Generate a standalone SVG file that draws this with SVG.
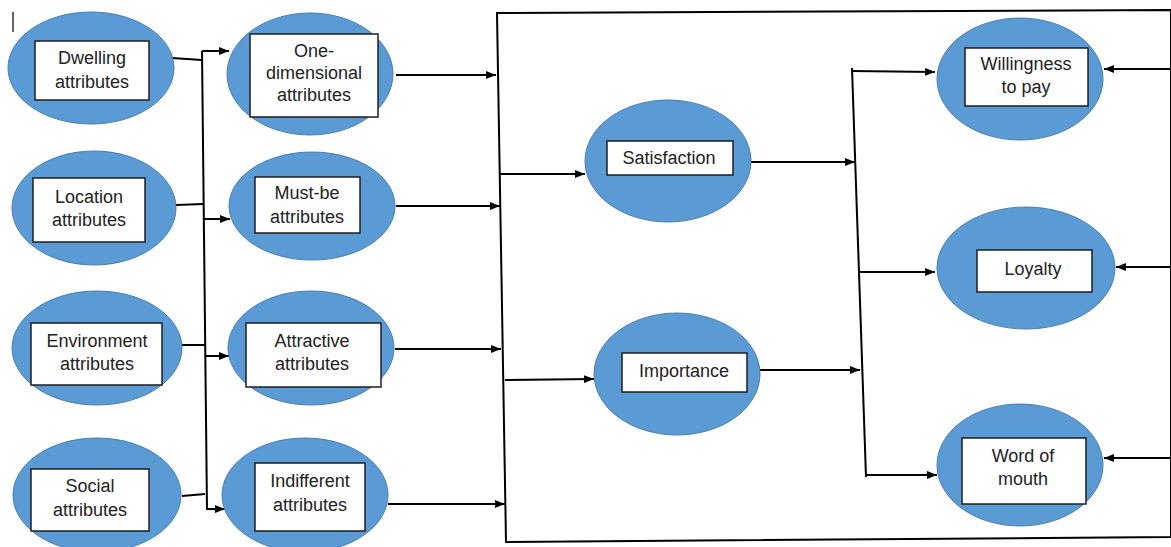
<svg xmlns="http://www.w3.org/2000/svg" width="1171" height="547" viewBox="0 0 1171 547">
<defs>
<marker id="ah" markerWidth="10" markerHeight="8" refX="10" refY="4" orient="auto" markerUnits="userSpaceOnUse">
<path d="M0,0 L10,4 L0,8 z" fill="#000"/>
</marker>
<style>
.el{fill:#5b9bd5;stroke:#4a7fb0;stroke-width:1}
.bx{fill:#fff;stroke:#1e1e1e;stroke-width:1.5}
.tx{font-family:"Liberation Sans",Arial,sans-serif;font-size:18px;fill:#222;text-anchor:middle}
.ln{fill:none;stroke:#000;stroke-width:2}
.ar{fill:none;stroke:#000;stroke-width:2;marker-end:url(#ah)}
</style>
</defs>
<rect width="1171" height="547" fill="#fff"/>
<line x1="13" y1="12" x2="13" y2="32" stroke="#333" stroke-width="1.5"/>

<g id="connectors">
<path class="ln" d="M497,13 L1171,10 L1171,537 L506,542 Z"/>
<polyline class="ln" points="172,58 202,60"/>
<polyline class="ln" points="176,205 203,204"/>
<polyline class="ln" points="182,345 205,345"/>
<polyline class="ln" points="182,496 205,494"/>
<line class="ln" x1="202" y1="51" x2="207" y2="510"/>
<line class="ar" x1="202" y1="51" x2="229" y2="51"/>
<line class="ar" x1="204" y1="219" x2="230" y2="219"/>
<line class="ar" x1="205" y1="356" x2="229" y2="356"/>
<line class="ar" x1="207" y1="509" x2="225" y2="509"/>
<line class="ar" x1="396" y1="75" x2="496" y2="75"/>
<line class="ar" x1="396" y1="206" x2="500" y2="206"/>
<line class="ar" x1="395" y1="349" x2="501" y2="349"/>
<line class="ar" x1="388" y1="504" x2="505" y2="504"/>
<line class="ar" x1="499" y1="174" x2="585" y2="174"/>
<line class="ar" x1="505" y1="380" x2="594" y2="379"/>
<line class="ar" x1="751" y1="162" x2="855" y2="162"/>
<line class="ar" x1="760" y1="370" x2="860" y2="370"/>
<line class="ln" x1="852" y1="68" x2="866" y2="477"/>
<line class="ar" x1="852" y1="71" x2="935" y2="72"/>
<line class="ar" x1="859" y1="272" x2="935" y2="272"/>
<line class="ar" x1="866" y1="475" x2="937" y2="475"/>
<line class="ar" x1="1171" y1="69" x2="1104" y2="69"/>
<line class="ar" x1="1171" y1="267" x2="1116" y2="267"/>
<line class="ar" x1="1171" y1="458" x2="1104" y2="458"/>
</g>

<g id="dwelling">
<ellipse class="el" cx="91" cy="68" rx="83" ry="56"/>
<rect class="bx" x="35" y="41" width="114" height="59"/>
<text class="tx" x="92" y="64">Dwelling</text>
<text class="tx" x="92" y="88">attributes</text>
</g>
<g id="location">
<ellipse class="el" cx="94" cy="208" rx="82" ry="57"/>
<rect class="bx" x="33" y="178" width="112" height="64"/>
<text class="tx" x="89" y="203">Location</text>
<text class="tx" x="89" y="226">attributes</text>
</g>
<g id="environment">
<ellipse class="el" cx="97" cy="348" rx="85" ry="57"/>
<rect class="bx" x="31" y="323" width="131" height="62"/>
<text class="tx" x="97" y="347">Environment</text>
<text class="tx" x="97" y="370">attributes</text>
</g>
<g id="social">
<ellipse class="el" cx="97" cy="495" rx="84" ry="57"/>
<rect class="bx" x="31" y="469" width="118" height="62"/>
<text class="tx" x="90" y="492">Social</text>
<text class="tx" x="90" y="516">attributes</text>
</g>

<g id="one-dimensional">
<ellipse class="el" cx="310" cy="74" rx="83" ry="61"/>
<rect class="bx" x="250" y="34" width="128" height="83"/>
<text class="tx" x="314" y="57">One-</text>
<text class="tx" x="314" y="79">dimensional</text>
<text class="tx" x="314" y="101">attributes</text>
</g>
<g id="must-be">
<ellipse class="el" cx="312" cy="206" rx="83" ry="54"/>
<rect class="bx" x="255" y="177" width="105" height="56"/>
<text class="tx" x="307" y="199">Must-be</text>
<text class="tx" x="307" y="223">attributes</text>
</g>
<g id="attractive">
<ellipse class="el" cx="311" cy="348" rx="83" ry="57"/>
<rect class="bx" x="246" y="323" width="135" height="64"/>
<text class="tx" x="312" y="347">Attractive</text>
<text class="tx" x="312" y="370">attributes</text>
</g>
<g id="indifferent">
<ellipse class="el" cx="305" cy="495" rx="83" ry="57"/>
<rect class="bx" x="255" y="463" width="110" height="68"/>
<text class="tx" x="310" y="487">Indifferent</text>
<text class="tx" x="310" y="511">attributes</text>
</g>

<g id="satisfaction">
<ellipse class="el" cx="668" cy="161" rx="83" ry="61"/>
<rect class="bx" x="607" y="141" width="126" height="34"/>
<text class="tx" x="669" y="164">Satisfaction</text>
</g>
<g id="importance">
<ellipse class="el" cx="677" cy="374" rx="83" ry="61"/>
<rect class="bx" x="622" y="353" width="125" height="39"/>
<text class="tx" x="684" y="377">Importance</text>
</g>

<g id="willingness">
<ellipse class="el" cx="1020" cy="79" rx="83" ry="61"/>
<rect class="bx" x="965" y="48" width="123" height="58"/>
<text class="tx" x="1026" y="70">Willingness</text>
<text class="tx" x="1026" y="93">to pay</text>
</g>
<g id="loyalty">
<ellipse class="el" cx="1026" cy="268" rx="89" ry="61"/>
<rect class="bx" x="977" y="250" width="115" height="42"/>
<text class="tx" x="1033" y="275">Loyalty</text>
</g>
<g id="word-of-mouth">
<ellipse class="el" cx="1020" cy="465" rx="83" ry="61"/>
<rect class="bx" x="962" y="438" width="124" height="66"/>
<text class="tx" x="1023" y="462">Word of</text>
<text class="tx" x="1023" y="485">mouth</text>
</g>
</svg>
